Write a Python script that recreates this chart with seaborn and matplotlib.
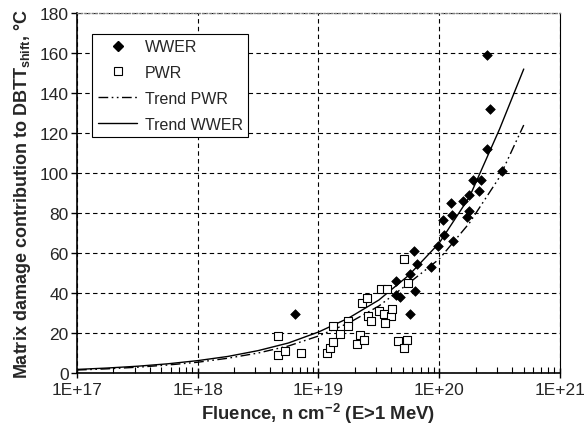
import numpy as np
import pandas as pd
import seaborn as sns
import matplotlib.pyplot as plt
from matplotlib.lines import Line2D

# WWER data (fluence n/cm2, shift degC)
wwer_fluence = [6.4e18, 6.2e19, 6.6e19, 5.7e19, 4.35e19, 4.35e19, 4.7e19, 6.3e19, 5.7e19,
                8.6e19, 9.8e19, 1.1e20, 1.31e20, 1.08e20, 1.27e20, 1.25e20, 1.56e20, 1.77e20,
                2.13e20, 1.76e20, 1.71e20, 1.9e20, 2.2e20, 2.5e20, 2.63e20, 2.47e20, 3.33e20]
wwer_shift = [29.5, 61, 54.5, 49.5, 46, 39, 38, 41, 29.5,
              53, 63.5, 69, 66, 76.5, 79, 85, 86, 89,
              91, 81, 78, 96.5, 96.5, 159, 132, 112, 101]

# PWR data
pwr_fluence = [4.6e18, 4.6e18, 5.3e18, 7.1e18, 1.18e19, 1.25e19, 1.33e19, 1.33e19, 1.5e19,
               1.77e19, 1.77e19, 2.1e19, 2.2e19, 2.4e19, 2.3e19, 2.5e19, 2.55e19, 2.7e19,
               3.3e19, 3.7e19, 5.5e19, 3.2e19, 3.5e19, 4.0e19, 4.1e19, 3.55e19, 4.6e19,
               5.4e19, 5.1e19, 5.1e19]
pwr_shift = [18.5, 9.2, 11, 10, 10, 12.5, 15.5, 23.5, 19.5,
             26, 23.5, 14.5, 19, 16.5, 35, 37.5, 28.5, 26,
             42, 42, 45, 31, 29.5, 28.5, 32, 25, 16,
             16.5, 12.5, 57]

# trend curves (log10 fluence, shift)
trend_logF = [17.0, 17.25, 17.5, 17.75, 18.0, 18.25, 18.5, 18.75, 19.0,
              19.25, 19.5, 19.75, 20.0, 20.25, 20.5, 20.7]
trend_wwer = [1.8, 2.5, 3.4, 4.6, 6.2, 8.3, 11.2, 15.0, 20.5,
              27.5, 36.5, 49, 65, 88, 122, 152]
trend_pwr = [1.5, 2.1, 2.9, 4.0, 5.4, 7.4, 10.0, 13.5, 18.5,
             25, 33.5, 45, 57, 75, 98, 124]

sns.set_theme(style="white")
plt.rcParams['font.family'] = ['Liberation Sans', 'DejaVu Sans']
plt.rcParams['mathtext.fontset'] = 'custom'
plt.rcParams['mathtext.rm'] = 'Liberation Sans'
plt.rcParams['mathtext.bf'] = 'Liberation Sans:bold'

fig = plt.figure(figsize=(5.85, 4.39), dpi=100)
ax = fig.add_axes([0.1316, 0.148, 0.8256, 0.820])

trend_F = 10.0 ** np.array(trend_logF)
dashdot = (0, (7, 2.5, 1.2, 2.5, 1.2, 2.5))
sns.lineplot(x=trend_F, y=trend_pwr, ax=ax, color='black', lw=1.0,
             linestyle=dashdot, estimator=None, sort=False)
sns.lineplot(x=trend_F, y=trend_wwer, ax=ax, color='black', lw=1.0,
             estimator=None, sort=False)

sns.scatterplot(x=pwr_fluence, y=pwr_shift, ax=ax, marker='s', s=30,
                facecolor='white', edgecolor='black', linewidth=0.8, zorder=3)
sns.scatterplot(x=wwer_fluence, y=wwer_shift, ax=ax, marker='D', s=24,
                color='black', edgecolor='black', linewidth=0.5, zorder=4)

ax.set_xscale('log')
ax.set_xlim(1e17, 1e21)
ax.set_ylim(0, 180)
ax.set_yticks(np.arange(0, 181, 20))
ax.set_xticks([1e17, 1e18, 1e19, 1e20, 1e21])
ax.set_xticklabels(['1E+17', '1E+18', '1E+19', '1E+20', '1E+21'])

ax.grid(True, which='major', color='black', lw=0.8, ls=(0, (4, 3)))
ax.set_axisbelow(True)

for s in ['left', 'bottom']:
    ax.spines[s].set_color('black')
    ax.spines[s].set_linewidth(1.2)
ax.spines['right'].set_color('black')
ax.spines['right'].set_linewidth(0.8)
ax.spines['top'].set_color('gray')
ax.spines['top'].set_linestyle(':')
ax.spines['top'].set_linewidth(1.0)

ax.tick_params(axis='x', which='major', direction='inout', length=7, width=1,
               labelsize=12.5, pad=3, color='black', bottom=True)
ax.tick_params(axis='x', which='minor', direction='in', length=4, width=0.8,
               color='black', bottom=True)
ax.tick_params(axis='y', which='major', direction='out', length=4, width=1,
               labelsize=12.5, pad=2, color='black', left=True)

ax.set_xlabel(r'Fluence, n cm$^{\mathbf{-2}}$ (E>1 MeV)', fontsize=13.3,
              fontweight='bold', labelpad=3)
ax.set_ylabel(r'Matrix damage contribution to DBTT$_{\mathbf{shift}}$, °C',
              fontsize=13, fontweight='bold', labelpad=5)

handles = [
    Line2D([], [], marker='D', color='black', ls='none', markersize=4.6),
    Line2D([], [], marker='s', markerfacecolor='white', markeredgecolor='black',
           ls='none', markersize=5.5, markeredgewidth=0.8),
    Line2D([], [], color='black', lw=1.0, ls=dashdot),
    Line2D([], [], color='black', lw=1.0),
]
labels = ['WWER', 'PWR', 'Trend PWR', 'Trend WWER']
leg = ax.legend(handles, labels, loc='upper left', bbox_to_anchor=(0.031, 0.943),
                borderaxespad=0, fontsize=11.5, frameon=True, fancybox=False,
                framealpha=1, edgecolor='black', handlelength=2.5,
                labelspacing=0.68, borderpad=0.35, handletextpad=0.45)
leg.get_frame().set_linewidth(0.8)

fig.savefig('out.png', dpi=100)
